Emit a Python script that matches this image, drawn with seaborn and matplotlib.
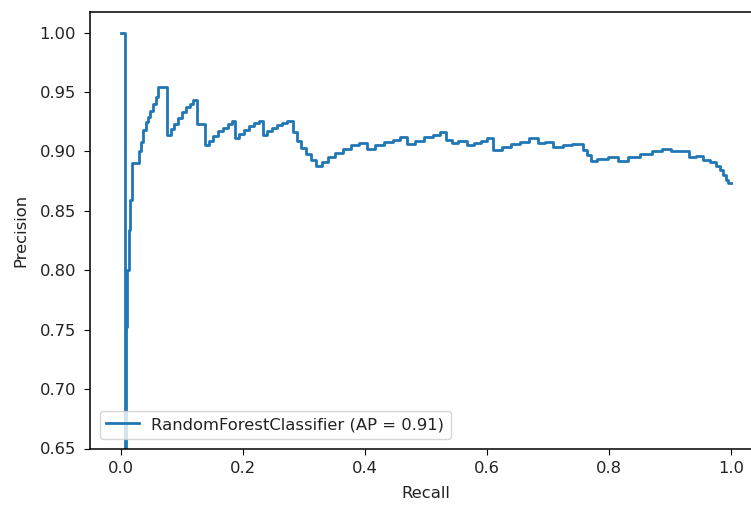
import matplotlib
matplotlib.use("Agg")
import matplotlib.pyplot as plt
import numpy as np
import pandas as pd
import seaborn as sns

# Precision-recall curve of the random forest, in increasing recall order.
# Each precision value holds over the recall interval ending at its recall.
recall = [
    0.0, 0.0066, 0.0082, 0.0098, 0.0131, 0.0148, 0.0189, 0.0295,
    0.0328, 0.0361, 0.0410, 0.0443, 0.0475, 0.0525, 0.0574, 0.0607,
    0.0754, 0.0820, 0.0869, 0.0934, 0.1000, 0.1066, 0.1131, 0.1180,
    0.1246, 0.1377, 0.1443, 0.1508, 0.1590, 0.1672, 0.1754, 0.1820,
    0.1869, 0.1934, 0.2016, 0.2098, 0.2180, 0.2262, 0.2328, 0.2393,
    0.2475, 0.2557, 0.2639, 0.2721, 0.2820, 0.2885, 0.2951, 0.3033,
    0.3115, 0.3197, 0.3295, 0.3393, 0.3508, 0.3639, 0.3770, 0.3902,
    0.4033, 0.4164, 0.4311, 0.4459, 0.4574, 0.4689, 0.4820, 0.4967,
    0.5115, 0.5230, 0.5328, 0.5426, 0.5525, 0.5672, 0.5787, 0.5902,
    0.6000, 0.6098, 0.6246, 0.6393, 0.6541, 0.6689, 0.6836, 0.6951,
    0.7082, 0.7246, 0.7393, 0.7574, 0.7639, 0.7705, 0.7803, 0.7984,
    0.8148, 0.8311, 0.8508, 0.8705, 0.8869, 0.9016, 0.9311, 0.9426,
    0.9541, 0.9656, 0.9754, 0.9820, 0.9869, 0.9918, 0.9951, 1.0,
]
precision = [
    1.0, 1.0, 0.600, 0.752, 0.800, 0.834, 0.859, 0.890,
    0.900, 0.908, 0.918, 0.925, 0.929, 0.934, 0.940, 0.946,
    0.954, 0.914, 0.919, 0.923, 0.928, 0.933, 0.937, 0.940,
    0.943, 0.923, 0.905, 0.909, 0.913, 0.917, 0.920, 0.923,
    0.926, 0.911, 0.915, 0.918, 0.921, 0.924, 0.926, 0.914,
    0.917, 0.920, 0.922, 0.924, 0.926, 0.916, 0.909, 0.903,
    0.898, 0.893, 0.888, 0.891, 0.895, 0.899, 0.902, 0.905,
    0.907, 0.902, 0.905, 0.908, 0.910, 0.912, 0.906, 0.909,
    0.912, 0.914, 0.916, 0.910, 0.907, 0.909, 0.905, 0.907,
    0.909, 0.911, 0.901, 0.904, 0.906, 0.908, 0.911, 0.907,
    0.908, 0.904, 0.905, 0.906, 0.901, 0.897, 0.892, 0.894,
    0.895, 0.892, 0.895, 0.898, 0.900, 0.902, 0.900, 0.895,
    0.896, 0.893, 0.891, 0.888, 0.884, 0.880, 0.876, 0.873,
]
curve_label = "RandomForestClassifier (AP = 0.91)"
x_ticks = [0.0, 0.2, 0.4, 0.6, 0.8, 1.0]
y_ticks = [0.65, 0.70, 0.75, 0.80, 0.85, 0.90, 0.95, 1.00]

plt.rcParams.update({
    "font.family": ["DejaVu Sans"],
    "font.size": 11.8,
    "text.color": "#222222",
    "axes.labelcolor": "#222222",
    "xtick.labelcolor": "#222222",
    "ytick.labelcolor": "#222222",
    "axes.linewidth": 1.1,
    "xtick.major.size": 4.5,
    "ytick.major.size": 4.5,
    "xtick.major.pad": 4.5,
    "ytick.major.pad": 5.5,
})

df = pd.DataFrame({"Recall": recall, "Precision": precision})

fig = plt.figure(figsize=(7.51, 5.08), dpi=100)
# The axes run slightly past the right edge of the canvas
ax = fig.add_axes([90 / 751, 59.5 / 508, 671.5 / 751, 436.5 / 508])

sns.lineplot(
    data=df, x="Recall", y="Precision", ax=ax,
    sort=False, estimator=None, drawstyle="steps-pre",
    color="#1f77b4", linewidth=2.0, label=curve_label,
)

ax.set_xlim(-0.05, 1.05)
ax.set_ylim(0.65, 1.0173)
ax.set_xticks(x_ticks)
ax.set_yticks(y_ticks)
ax.set_yticklabels([f"{v:.2f}" for v in y_ticks])
ax.set_xticklabels([f"{v:.1f}" for v in x_ticks])
ax.set_xlabel("Recall", labelpad=7)
ax.set_ylabel("Precision", labelpad=8)
ax.spines["right"].set_visible(False)
ax.legend(loc="lower left", framealpha=0.8, borderaxespad=0.6,
          handletextpad=0.75)

fig.savefig("out.png", dpi=100)
